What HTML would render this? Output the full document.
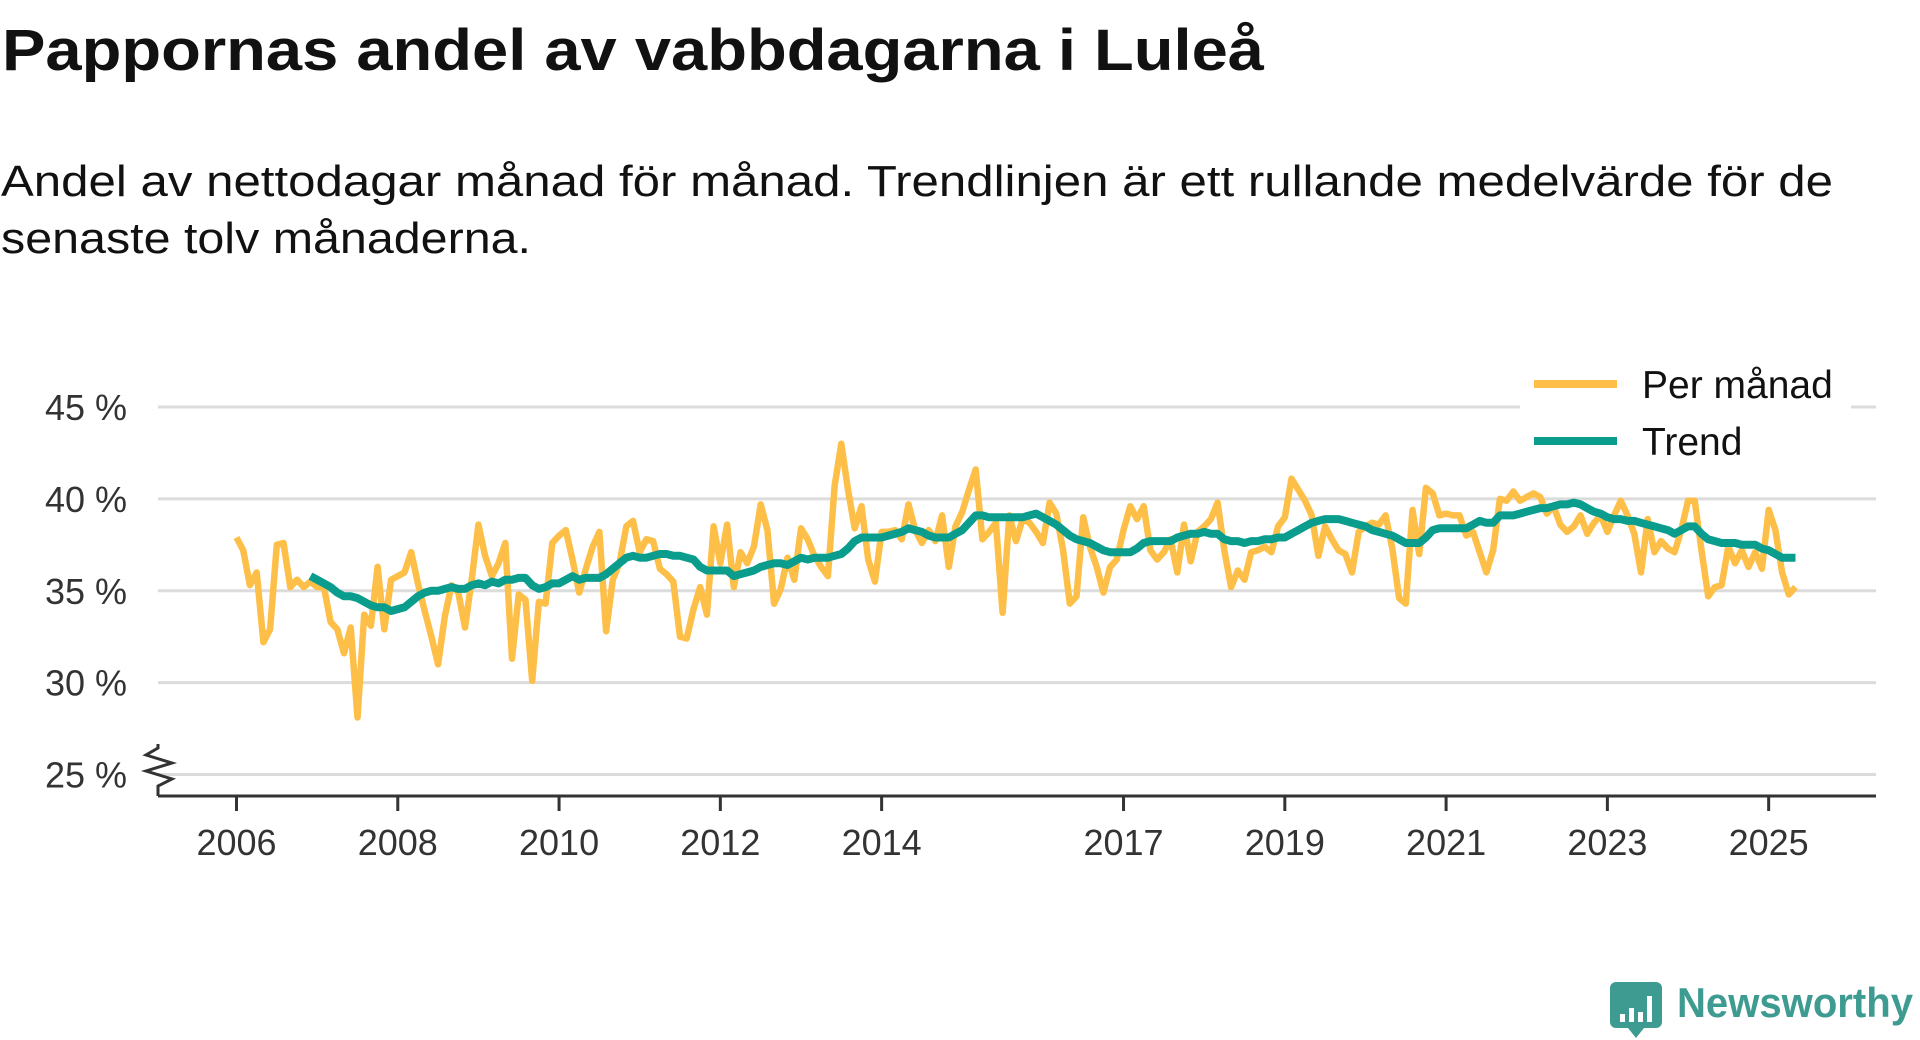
<!DOCTYPE html>
<html><head><meta charset="utf-8">
<style>
html,body{margin:0;padding:0;background:#fff;width:1920px;height:1040px;overflow:hidden;}
svg{display:block;font-family:"Liberation Sans",sans-serif;}
</style></head>
<body>
<svg id="chart" width="1920" height="1040" viewBox="0 0 1920 1040" xmlns="http://www.w3.org/2000/svg">
  <text x="2" y="70" font-size="58" font-weight="bold" fill="#111" textLength="1262" lengthAdjust="spacingAndGlyphs">Pappornas andel av vabbdagarna i Luleå</text>
  <text x="1" y="196" font-size="44" fill="#111" textLength="1832" lengthAdjust="spacingAndGlyphs">Andel av nettodagar månad för månad. Trendlinjen är ett rullande medelvärde för de</text>
  <text x="1" y="253" font-size="44" fill="#111" textLength="530" lengthAdjust="spacingAndGlyphs">senaste tolv månaderna.</text>
  <rect x="0" y="262" width="800" height="30" fill="#fff"/>
  <g id="grid"></g>
  <g id="yaxis"></g>
  <g id="xaxis"></g>
  <g id="series"></g>
  <g id="legend">
    <rect x="1520" y="370" width="331" height="90" fill="#fff"/>
    <line x1="1534" y1="384" x2="1617" y2="384" stroke="#fdbf47" stroke-width="8"/>
    <text x="1642" y="398" font-size="39" fill="#111">Per månad</text>
    <line x1="1534" y1="441" x2="1617" y2="441" stroke="#0a9d8d" stroke-width="8"/>
    <text x="1642" y="455" font-size="39" fill="#111">Trend</text>
  </g>
  <g>
    <path d="M1616 982 h40 a6 6 0 0 1 6 6 v34 a6 6 0 0 1 -6 6 h-12 l-8 10 l-8 -10 h-12 a6 6 0 0 1 -6 -6 v-34 a6 6 0 0 1 6 -6z" fill="#3e9b91"/>
    <rect x="1620" y="1014" width="5" height="8" fill="#fff"/>
    <rect x="1629" y="1008" width="5" height="14" fill="#fff"/>
    <rect x="1638" y="1012" width="5" height="10" fill="#fff"/>
    <rect x="1647" y="996" width="5" height="26" fill="#fff"/>
    <text x="1677" y="1017" font-size="42" font-weight="bold" fill="#3e9b91" textLength="236" lengthAdjust="spacingAndGlyphs">Newsworthy</text>
  </g>
</svg>
<script>
const startYear = 2006;
const yTicks = [25, 30, 35, 40, 45];
const yTickLabels = ["25 %", "30 %", "35 %", "40 %", "45 %"];
const xTickYears = [2006, 2008, 2010, 2012, 2014, 2017, 2019, 2021, 2023, 2025];
const perMonth = [
37.9,37.2,35.3,36.0,32.2,32.9,37.5,37.6,35.2,35.6,35.2,35.5,
35.2,35.2,33.3,32.9,31.6,33.0,28.1,33.7,33.1,36.3,32.9,35.6,
35.8,36.0,37.1,35.4,33.9,32.5,31.0,33.6,35.3,34.9,33.0,35.6,
38.6,36.9,35.8,36.5,37.6,31.3,34.8,34.5,30.1,34.4,34.3,37.6,
38.0,38.3,36.7,34.9,36.2,37.4,38.2,32.8,35.6,36.5,38.5,38.8,
37.1,37.8,37.7,36.2,35.9,35.5,32.5,32.4,34.0,35.2,33.7,38.5,
36.5,38.6,35.2,37.1,36.5,37.4,39.7,38.3,34.3,35.1,36.8,35.6,
38.4,37.8,36.9,36.3,35.8,40.7,43.0,40.5,38.4,39.6,36.7,35.5,
38.2,38.2,38.3,37.8,39.7,38.3,37.6,38.3,37.7,39.1,36.3,38.5,
39.3,40.5,41.6,37.8,38.2,38.7,33.8,39.1,37.7,38.9,38.7,38.2,
37.6,39.8,39.2,37.2,34.3,34.7,39.0,37.4,36.3,34.9,36.3,36.7,
38.3,39.6,38.9,39.6,37.2,36.7,37.1,37.8,36.0,38.6,36.6,38.2,
38.5,38.9,39.8,37.2,35.2,36.1,35.6,37.1,37.2,37.4,37.1,38.5,
39.0,41.1,40.5,39.9,39.1,36.9,38.5,37.8,37.2,37.0,36.0,38.2,
38.5,38.7,38.6,39.1,37.3,34.6,34.3,39.4,37.0,40.6,40.3,39.1,
39.2,39.1,39.1,38.0,38.2,37.1,36.0,37.2,40.0,39.9,40.4,39.9,
40.1,40.3,40.1,39.2,39.6,38.6,38.2,38.5,39.1,38.1,38.7,39.1,
38.2,39.1,39.9,39.1,38.1,36.0,38.9,37.1,37.7,37.3,37.1,38.3,
39.9,39.9,37.2,34.7,35.2,35.3,37.4,36.5,37.2,36.3,37.1,36.2,
39.4,38.3,36.0,34.8,35.2
];
const trendStartMonth = 11;
const trend = [
35.8,
35.6,35.4,35.2,34.9,34.7,34.7,34.6,34.4,34.2,34.1,34.1,33.9,
34.0,34.1,34.4,34.7,34.9,35.0,35.0,35.1,35.2,35.1,35.1,35.3,
35.4,35.3,35.5,35.4,35.6,35.6,35.7,35.7,35.3,35.1,35.2,35.4,
35.4,35.6,35.8,35.6,35.7,35.7,35.7,35.9,36.2,36.5,36.8,36.9,
36.8,36.8,36.9,37.0,37.0,36.9,36.9,36.8,36.7,36.3,36.1,36.1,
36.1,36.1,35.8,35.9,36.0,36.1,36.3,36.4,36.5,36.5,36.4,36.6,
36.8,36.7,36.8,36.8,36.8,36.9,37.0,37.3,37.7,37.9,37.9,37.9,
37.9,38.0,38.1,38.2,38.4,38.3,38.2,38.0,37.9,37.9,37.9,38.1,
38.3,38.7,39.1,39.1,39.0,39.0,39.0,39.0,39.0,39.0,39.1,39.2,
39.0,38.8,38.6,38.3,38.0,37.8,37.7,37.6,37.4,37.2,37.1,37.1,
37.1,37.1,37.3,37.6,37.7,37.7,37.7,37.7,37.9,38.0,38.1,38.1,
38.2,38.1,38.1,37.8,37.7,37.7,37.6,37.7,37.7,37.8,37.8,37.9,
37.9,38.1,38.3,38.5,38.7,38.8,38.9,38.9,38.9,38.8,38.7,38.6,
38.5,38.3,38.2,38.1,38.0,37.8,37.6,37.6,37.6,37.9,38.3,38.4,
38.4,38.4,38.4,38.4,38.6,38.8,38.7,38.7,39.1,39.1,39.1,39.2,
39.3,39.4,39.5,39.5,39.6,39.7,39.7,39.8,39.7,39.5,39.3,39.2,
39.0,38.9,38.9,38.8,38.8,38.7,38.6,38.5,38.4,38.3,38.1,38.3,
38.5,38.5,38.1,37.8,37.7,37.6,37.6,37.6,37.5,37.5,37.5,37.3,
37.2,37.0,36.8,36.8,36.8
];

const NS = "http://www.w3.org/2000/svg";
const X0 = 236.5, MONTH_W = 6.72, Y25 = 774.5, PX_PER_PCT = 18.375;
const PLOT_L = 158, PLOT_R = 1876, AXIS_Y = 796;
function xScale(monthIndex){ return X0 + MONTH_W * monthIndex; }
function yScale(v){ return Y25 - (v - 25) * PX_PER_PCT; }
function mk(tag, attrs, parent){
  const e = document.createElementNS(NS, tag);
  for (const k in attrs) e.setAttribute(k, attrs[k]);
  parent.appendChild(e);
  return e;
}
const grid = document.getElementById('grid');
const yaxis = document.getElementById('yaxis');
const xaxis = document.getElementById('xaxis');
const series = document.getElementById('series');

yTicks.forEach((v, i) => {
  const y = yScale(v);
  const gl = mk('line', {x1: PLOT_L, x2: PLOT_R, y1: y, y2: y, stroke: '#dcdcdc', 'stroke-width': 3}, grid);
  
  
  const t = mk('text', {x: 127, y: y + 13, 'font-size': 36, fill: '#333', 'text-anchor': 'end'}, yaxis);
  t.textContent = yTickLabels[i];
  
  
});

const brk = mk('polyline', {points: '158,796 158,786 172,779 146,771 172,763 146,755 158,748 158,744', fill: 'none', stroke: '#333', 'stroke-width': 3}, yaxis);



const axl = mk('line', {x1: PLOT_L, x2: PLOT_R, y1: AXIS_Y, y2: AXIS_Y, stroke: '#333', 'stroke-width': 3}, xaxis);


xTickYears.forEach(yr => {
  const x = xScale((yr - startYear) * 12);
  const tk = mk('line', {x1: x, x2: x, y1: AXIS_Y, y2: AXIS_Y + 15, stroke: '#333', 'stroke-width': 3}, xaxis);
  
  
  const t = mk('text', {x: x, y: 855, 'font-size': 36, fill: '#333', 'text-anchor': 'middle'}, xaxis);
  t.textContent = String(yr);
  
  
});

const pm = mk('polyline', {points: perMonth.map((v, i) => xScale(i).toFixed(1) + ',' + yScale(v).toFixed(1)).join(' '), fill: 'none', stroke: '#fdbf47', 'stroke-width': 6.5, 'stroke-linejoin': 'round'}, series);


const tr = mk('polyline', {points: trend.map((v, i) => xScale(i + trendStartMonth).toFixed(1) + ',' + yScale(v).toFixed(1)).join(' '), fill: 'none', stroke: '#0a9d8d', 'stroke-width': 8, 'stroke-linejoin': 'round'}, series);


</script>
</body></html>
